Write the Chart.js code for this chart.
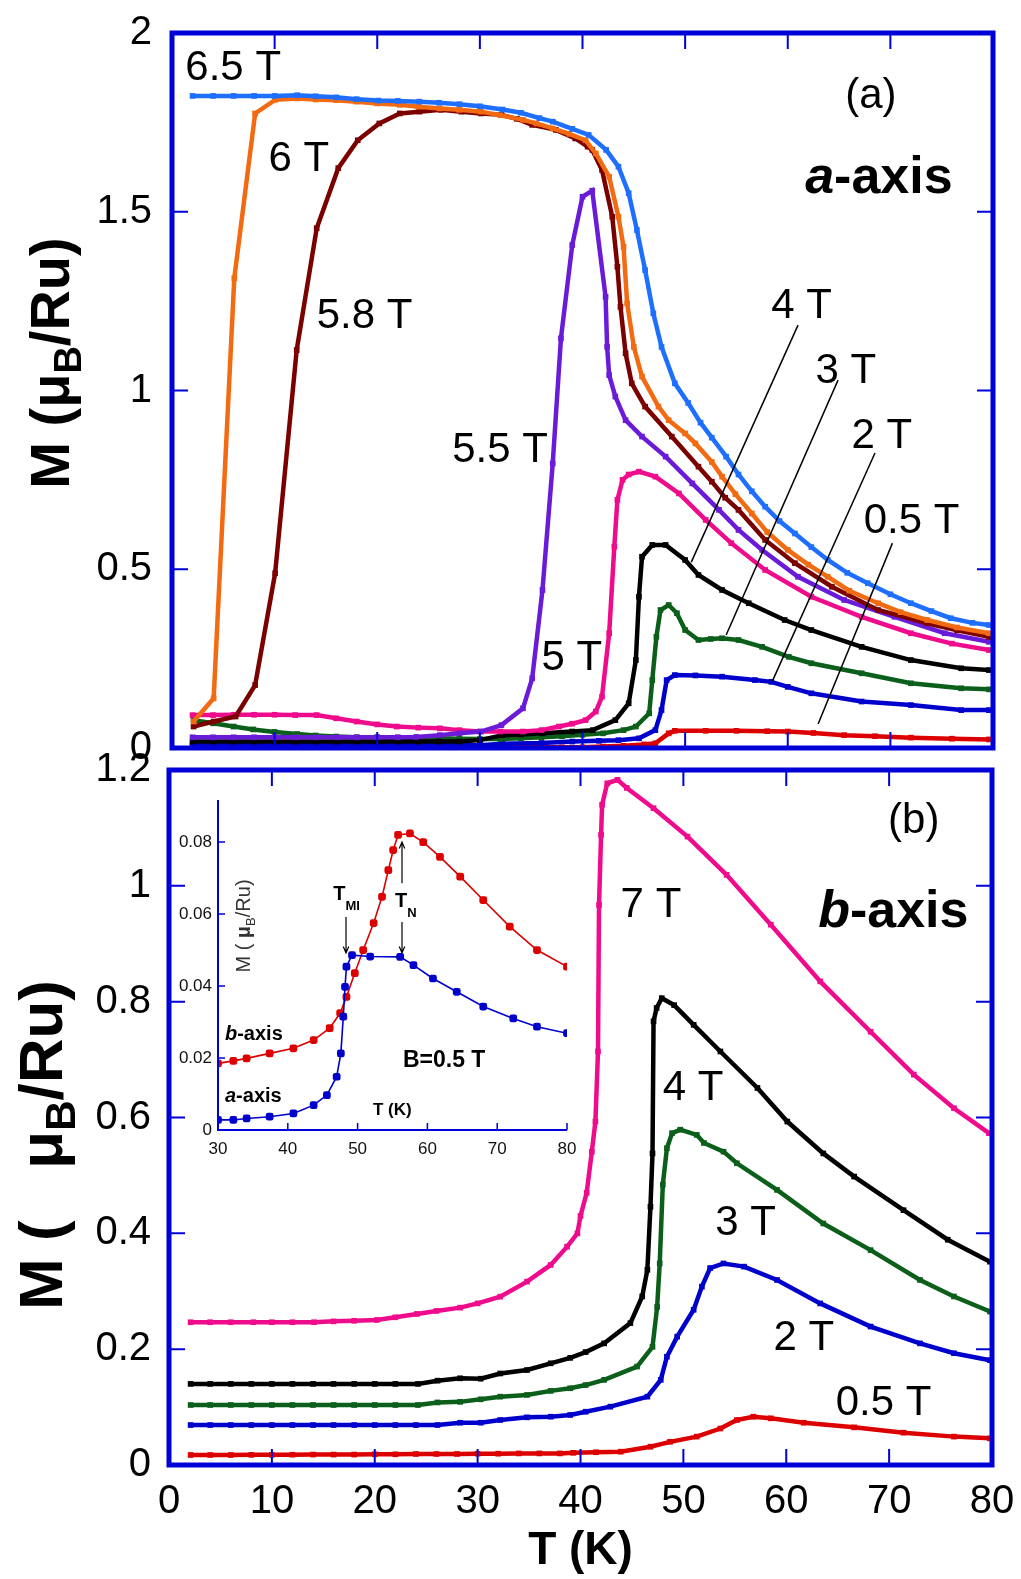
<!DOCTYPE html>
<html>
<head>
<meta charset="utf-8">
<title>M vs T</title>
<script src="https://cdn.jsdelivr.net/npm/chart.js@4.4.1/dist/chart.umd.min.js"></script>
<style>
  html, body { margin: 0; padding: 0; background: #fff; }
  #wrap { position: relative; width: 1021px; height: 1579px; overflow: hidden; }
  canvas { position: absolute; }
  #chart-a { left: 0; top: 0; }
  #chart-b { left: 0; top: 730px; }
  #chart-inset { left: 170px; top: 780px; }
</style>
</head>
<body>
<div id="wrap">
  <canvas id="chart-a" width="1021" height="760"></canvas>
  <canvas id="chart-b" width="1021" height="849"></canvas>
  <canvas id="chart-inset" width="420" height="390"></canvas>
</div>
<script>
'use strict';

// ***** TICKS *****

let tempTicks = [0, 10, 20, 30, 40, 50, 60, 70, 80];
let magTicksA = [0, 0.5, 1, 1.5, 2];
let magTicksB = [0, 0.2, 0.4, 0.6, 0.8, 1, 1.2];
let insetTempTicks = [30, 40, 50, 60, 70, 80];
let insetMagTicks = [0, 0.02, 0.04, 0.06, 0.08];

// ***** DATA: PANEL (a), a-axis *****

let tempA65 = [2, 4, 6, 8, 10, 12.2, 14, 16, 18, 20.1, 22, 24.1, 26, 28, 30, 32.2, 34, 35.8, 37.1, 39, 40.6, 42.3, 43.5, 44.5, 45.3, 46.1, 46.9, 47.7, 49, 50.3, 51.5, 52.6, 54, 55.2, 56.5, 57.8, 59.2, 60.7, 62.3, 63.9, 65.8, 67.8, 70, 72, 74, 75.9, 78, 79.6];
let magA65 = [1.824, 1.824, 1.824, 1.824, 1.824, 1.826, 1.823, 1.82, 1.815, 1.811, 1.81, 1.808, 1.805, 1.801, 1.795, 1.786, 1.777, 1.762, 1.752, 1.732, 1.715, 1.673, 1.626, 1.552, 1.449, 1.337, 1.216, 1.122, 1.02, 0.965, 0.91, 0.868, 0.815, 0.765, 0.718, 0.675, 0.635, 0.6, 0.562, 0.526, 0.49, 0.461, 0.43, 0.405, 0.383, 0.363, 0.35, 0.344];

let tempA6 = [2.1, 4.06, 6.07, 8.1, 10.05, 12.2, 14, 16, 18, 20, 22.2, 24, 26.1, 28, 30.1, 32, 34.2, 35.5, 37.1, 38.7, 40.3, 41.3, 42.6, 43.5, 44, 44.35, 45, 45.8, 47.4, 48.4, 50, 51, 52.6, 53.6, 54.9, 56.5, 58, 60, 62, 63.9, 66, 68.8, 71, 73.6, 76.5, 79.6];
let magA6 = [0.074, 0.139, 1.314, 1.775, 1.813, 1.817, 1.814, 1.812, 1.808, 1.803, 1.799, 1.794, 1.789, 1.785, 1.78, 1.77, 1.757, 1.747, 1.733, 1.718, 1.7, 1.663, 1.598, 1.486, 1.402, 1.244, 1.122, 1.039, 0.955, 0.917, 0.88, 0.852, 0.8, 0.759, 0.71, 0.656, 0.604, 0.554, 0.513, 0.479, 0.44, 0.405, 0.38, 0.358, 0.337, 0.321];

let tempA58 = [2.1, 4.06, 6.2, 8.1, 10.05, 12.15, 14.1, 16.2, 18.1, 20.2, 22.2, 24.1, 26.2, 28.2, 30.1, 32.1, 33.6, 35.1, 37.4, 39.3, 40.5, 40.95, 41.9, 42.9, 43.4, 43.7, 44.2, 44.8, 46.1, 48.7, 51.3, 52.6, 53.9, 55.2, 57.8, 60.7, 64.3, 68.8, 73.6, 76.5, 79.6];
let magA58 = [0.06, 0.074, 0.088, 0.176, 0.489, 1.113, 1.454, 1.622, 1.7, 1.747, 1.775, 1.78, 1.785, 1.78, 1.775, 1.771, 1.76, 1.743, 1.729, 1.705, 1.682, 1.673, 1.617, 1.486, 1.346, 1.234, 1.104, 1.02, 0.955, 0.871, 0.787, 0.745, 0.7, 0.666, 0.582, 0.517, 0.451, 0.386, 0.349, 0.329, 0.311];

let tempA55 = [2, 4, 6, 8, 10, 12, 14, 16, 18, 20, 22, 23.8, 26.1, 28, 30.1, 32.1, 34.2, 35.1, 36.1, 37.1, 37.9, 39, 40, 40.95, 42.25, 42.4, 42.6, 43.2, 44.2, 45.8, 48.1, 50.7, 53.3, 55.2, 57.5, 61, 65.5, 70.4, 75.3, 79.6];
let magA55 = [0.03, 0.03, 0.03, 0.03, 0.03, 0.03, 0.03, 0.03, 0.03, 0.03, 0.03, 0.031, 0.036, 0.041, 0.046, 0.064, 0.111, 0.195, 0.442, 0.796, 1.146, 1.407, 1.542, 1.559, 1.262, 1.122, 1.043, 0.983, 0.917, 0.871, 0.815, 0.74, 0.666, 0.61, 0.554, 0.479, 0.414, 0.367, 0.321, 0.297];

let tempA5 = [2, 4, 6, 8, 10, 12, 14.1, 16, 18, 20, 21.9, 24, 26.1, 28, 30, 32, 34.2, 36, 37.7, 39, 40.3, 41.3, 41.9, 42.6, 43.1, 43.4, 43.9, 44.5, 45.5, 47.1, 49.4, 52, 54.5, 57.8, 62.3, 67.2, 72, 76, 79.6];
let magA5 = [0.092, 0.092, 0.093, 0.093, 0.093, 0.092, 0.092, 0.083, 0.074, 0.066, 0.06, 0.057, 0.055, 0.05, 0.046, 0.046, 0.046, 0.05, 0.06, 0.068, 0.078, 0.102, 0.1435, 0.321, 0.563, 0.694, 0.75, 0.765, 0.773, 0.759, 0.712, 0.638, 0.573, 0.498, 0.423, 0.367, 0.321, 0.292, 0.274];

let tempA4 = [2, 4, 6, 8, 10, 12, 14, 16, 18, 20, 22, 24, 26, 28, 30, 32.2, 34, 36.1, 39, 41, 43.2, 44.5, 45.2, 45.5, 45.8, 46.8, 48.1, 50, 51.3, 53.6, 56.2, 59.7, 62.3, 67.2, 72, 76.9, 79.6];
let magA4 = [0.018, 0.018, 0.018, 0.018, 0.018, 0.018, 0.018, 0.018, 0.018, 0.018, 0.018, 0.018, 0.018, 0.018, 0.022, 0.036, 0.038, 0.041, 0.046, 0.05, 0.078, 0.125, 0.246, 0.423, 0.535, 0.568, 0.568, 0.526, 0.484, 0.442, 0.405, 0.358, 0.33, 0.283, 0.246, 0.223, 0.218];

let tempA3 = [2.1, 4, 6, 7.9, 10, 12.2, 14, 16, 18, 20, 22, 24, 26, 28, 30, 32, 34, 36, 38, 40, 42, 44, 45.2, 46.5, 46.8, 47.2, 47.6, 48.4, 49.2, 50, 51.3, 52.5, 53.6, 55.2, 57.5, 60.1, 62.3, 67.2, 72, 76.9, 79.6];
let magA3 = [0.078, 0.069, 0.06, 0.052, 0.045, 0.039, 0.035, 0.032, 0.03, 0.03, 0.029, 0.028, 0.027, 0.026, 0.025, 0.025, 0.027, 0.03, 0.033, 0.037, 0.041, 0.05, 0.06, 0.097, 0.19, 0.311, 0.386, 0.4, 0.377, 0.33, 0.302, 0.305, 0.307, 0.302, 0.283, 0.255, 0.237, 0.209, 0.181, 0.167, 0.164];

let tempA2 = [2, 4, 6, 8, 10, 12, 14, 16, 18, 20, 22, 24, 26, 28, 30, 32.2, 36, 39, 41.6, 43.5, 45.5, 47.1, 47.7, 48.2, 49, 51, 53.6, 56.8, 58.4, 60, 62.3, 67.2, 72, 76.9, 79.6];
let magA2 = [0.008, 0.008, 0.008, 0.008, 0.008, 0.008, 0.008, 0.008, 0.008, 0.008, 0.008, 0.008, 0.008, 0.008, 0.008, 0.012, 0.014, 0.018, 0.02, 0.022, 0.027, 0.05, 0.106, 0.19, 0.204, 0.203, 0.1995, 0.19, 0.185, 0.171, 0.153, 0.13, 0.12, 0.106, 0.106];

let tempA05 = [2, 4, 6, 8, 10, 12, 14, 16, 18, 20, 22, 24, 26, 28, 30, 32, 34, 36, 38, 40, 42, 44, 46, 47.1, 48.4, 49, 52, 55, 58, 60, 62.5, 65.5, 68.5, 72, 76, 79.6];
let magA05 = [0.002, 0.002, 0.002, 0.002, 0.002, 0.002, 0.002, 0.002, 0.002, 0.002, 0.002, 0.002, 0.002, 0.002, 0.002, 0.002, 0.002, 0.002, 0.002, 0.002, 0.004, 0.006, 0.01, 0.013, 0.041, 0.048, 0.048, 0.048, 0.047, 0.046, 0.042, 0.036, 0.033, 0.029, 0.026, 0.024];

// ***** DATA: PANEL (b), b-axis *****

let tempB7 = [2.1, 4, 6, 8.2, 10, 12, 14.1, 16, 18, 20.2, 22, 24.1, 26, 28.3, 30, 32.2, 34.8, 37.1, 38.7, 39.7, 40, 40.6, 41.1, 41.45, 41.7, 41.8, 42, 42.1, 42.6, 43.6, 44.5, 47.1, 50.4, 54.2, 58.5, 63.3, 68.2, 72.4, 76.3, 79.7];
let magB7 = [0.2465, 0.2465, 0.2465, 0.2465, 0.2465, 0.2465, 0.2465, 0.248, 0.249, 0.2504, 0.255, 0.2608, 0.266, 0.2717, 0.279, 0.2907, 0.3166, 0.3454, 0.377, 0.4, 0.43, 0.47, 0.541, 0.593, 0.714, 0.967, 1.088, 1.14, 1.177, 1.183, 1.169, 1.134, 1.085, 1.019, 0.933, 0.835, 0.748, 0.674, 0.616, 0.573];

let tempB4 = [2.1, 4, 6, 8, 10, 12, 14, 16, 18, 20, 22, 24.2, 26.1, 28.3, 30.3, 32.2, 34.8, 37.1, 39, 40.5, 42.3, 44.85, 46, 46.5, 46.8, 47, 47.1, 47.4, 47.9, 49.1, 51, 53.6, 57.2, 60.1, 63.6, 66.6, 71.4, 75.7, 79.8];
let magB4 = [0.14, 0.14, 0.14, 0.14, 0.14, 0.14, 0.14, 0.14, 0.14, 0.14, 0.14, 0.14, 0.1456, 0.1497, 0.149, 0.158, 0.164, 0.1756, 0.185, 0.195, 0.21, 0.245, 0.291, 0.337, 0.446, 0.538, 0.766, 0.789, 0.806, 0.794, 0.76, 0.714, 0.651, 0.593, 0.538, 0.498, 0.44, 0.389, 0.351];

let tempB3 = [2.1, 4, 6, 8, 10, 12, 14, 16, 18, 20, 22, 24.2, 26.1, 28.3, 30.3, 32.2, 34.8, 37.1, 39, 40.5, 42.3, 45.5, 47, 47.45, 47.7, 48, 48.4, 48.9, 49.7, 51.3, 52, 53.9, 55.2, 59.1, 63.6, 68.2, 73, 76.3, 79.8];
let magB3 = [0.1036, 0.1036, 0.1036, 0.1036, 0.1036, 0.1036, 0.1036, 0.1036, 0.1036, 0.1036, 0.1036, 0.1036, 0.108, 0.109, 0.1134, 0.118, 0.121, 0.128, 0.1325, 0.138, 0.147, 0.17, 0.204, 0.273, 0.348, 0.484, 0.547, 0.573, 0.579, 0.57, 0.556, 0.541, 0.521, 0.475, 0.417, 0.371, 0.3195, 0.291, 0.265];

let tempB2 = [2.1, 4, 6, 8, 10, 12, 14, 16, 18, 20, 22, 24, 26.1, 28.3, 30.3, 32.2, 34.8, 37.1, 39, 40.5, 42.9, 46.5, 47.8, 48.4, 49.4, 51, 51.8, 52.6, 53.9, 55.9, 59.1, 63.3, 68.2, 73, 76.3, 79.8];
let magB2 = [0.069, 0.069, 0.069, 0.069, 0.069, 0.069, 0.069, 0.069, 0.069, 0.069, 0.069, 0.069, 0.069, 0.073, 0.073, 0.0777, 0.0823, 0.0834, 0.0864, 0.092, 0.1007, 0.118, 0.147, 0.187, 0.2216, 0.268, 0.308, 0.34, 0.348, 0.3425, 0.3195, 0.279, 0.239, 0.21, 0.193, 0.181];

let tempB05 = [2.1, 4, 6, 8, 10, 12, 14, 16, 18, 20, 22, 24, 26, 28, 30, 32, 34, 36, 38, 39.3, 41.5, 43.9, 46.8, 48.7, 51.3, 53.6, 55.2, 56.8, 58.5, 61.7, 66.6, 71.4, 76.3, 79.8];
let magB05 = [0.0173, 0.0173, 0.0173, 0.0175, 0.0175, 0.0178, 0.018, 0.018, 0.018, 0.0185, 0.0185, 0.019, 0.019, 0.019, 0.0195, 0.0195, 0.02, 0.02, 0.02, 0.021, 0.022, 0.023, 0.0316, 0.04, 0.049, 0.063, 0.0777, 0.0834, 0.0806, 0.073, 0.065, 0.0558, 0.049, 0.046];

// ***** DATA: INSET, B = 0.5 T *****

let tempInB = [30, 32.2, 34.1, 37.4, 40.8, 43.7, 46, 47.5, 48.4, 49.6, 50.8, 52.3, 53.5, 54.4, 55.1, 55.8, 57.5, 59.4, 61.8, 64.7, 68, 71.8, 75.7, 80];
let magInB = [0.0185, 0.0192, 0.0199, 0.0213, 0.0227, 0.025, 0.0283, 0.0325, 0.037, 0.0436, 0.05, 0.0575, 0.0648, 0.0722, 0.0778, 0.082, 0.0824, 0.08, 0.0759, 0.0704, 0.0639, 0.0565, 0.05, 0.0454];

let tempInA = [30, 32.2, 34.1, 37.4, 40.8, 43.7, 45.6, 47, 47.6, 47.95, 48.2, 48.4, 49.2, 51.8, 56.1, 58, 60.8, 64.2, 68, 72.3, 75.7, 80];
let magInA = [0.0028, 0.0028, 0.0032, 0.0037, 0.0046, 0.0069, 0.0097, 0.0148, 0.0213, 0.0315, 0.0398, 0.0454, 0.0486, 0.0482, 0.0481, 0.0458, 0.0421, 0.0384, 0.0343, 0.031, 0.0287, 0.0269];

// ***** STYLE *****

const FONT = "'Liberation Sans', Arial, Helvetica, sans-serif";
const FRAME_BLUE = '#0000d8';

Chart.defaults.font.family = FONT;
Chart.defaults.color = '#000';

function fnt(size, weight, style) {
  return (style || '') + ' ' + (weight || '') + ' ' + size + 'px ' + FONT;
}

function run(t, font, dy) {
  return {t: t, font: font, dy: dy || 0};
}

// ***** HELPER FUNCTIONS *****

function toPoints(temps, mags) {
  let pts = [];
  for (let i = 0; i < temps.length; i++) {
    pts.push({x: temps[i], y: mags[i]});
  }
  return pts;
}

function curve(temps, mags, color) {
  return {
    data: toPoints(temps, mags),
    borderColor: color,
    backgroundColor: color,
    borderWidth: 4.5,
    pointStyle: 'rect',
    pointRadius: 4,
    pointBorderWidth: 0,
    showLine: true,
    tension: 0
  };
}

function insetCurve(temps, mags, color) {
  return {
    data: toPoints(temps, mags),
    borderColor: color,
    backgroundColor: color,
    borderWidth: 1.6,
    pointStyle: 'rectRounded',
    pointRadius: 4.5,
    pointBorderWidth: 0,
    showLine: true,
    tension: 0
  };
}

function useTicks(list) {
  return function(scale) {
    scale.ticks = list.map(v => ({value: v}));
  };
}

// fixed axis box size, and no extra room asked for the end labels
function fixBox(dim, size) {
  return function(scale) {
    scale[dim] = size;
    scale.paddingTop = 0;
    scale.paddingBottom = 0;
    scale.paddingLeft = 0;
    scale.paddingRight = 0;
  };
}

// ***** PLUGINS *****

// blue frame + inward tick marks
let panelFrame = {
  id: 'panelFrame',
  afterDatasetsDraw(chart, args, opts) {
    let ctx = chart.ctx;
    let a = chart.chartArea;
    let xs = chart.scales.x;
    let ys = chart.scales.y;
    let len = opts.tickLen;
    ctx.save();
    ctx.strokeStyle = opts.color;
    ctx.lineWidth = opts.tickWidth;
    ctx.beginPath();
    xs.ticks.forEach(t => {
      let px = xs.getPixelForValue(t.value);
      ctx.moveTo(px, a.bottom);
      ctx.lineTo(px, a.bottom - len);
      if (opts.full) {
        ctx.moveTo(px, a.top);
        ctx.lineTo(px, a.top + len);
      }
    });
    ys.ticks.forEach(t => {
      let py = ys.getPixelForValue(t.value);
      ctx.moveTo(a.left, py);
      ctx.lineTo(a.left + len, py);
      if (opts.full) {
        ctx.moveTo(a.right, py);
        ctx.lineTo(a.right - len, py);
      }
    });
    ctx.stroke();
    ctx.lineWidth = opts.lineWidth;
    if (opts.full) {
      ctx.strokeRect(a.left, a.top, a.right - a.left, a.bottom - a.top);
    } else {
      ctx.beginPath();
      ctx.moveTo(a.left, a.top);
      ctx.lineTo(a.left, a.bottom);
      ctx.lineTo(a.right, a.bottom);
      ctx.stroke();
    }
    ctx.restore();
  }
};

function drawRuns(ctx, runs, x, y) {
  let px = x;
  runs.forEach(r => {
    ctx.font = r.font;
    ctx.fillText(r.t, px, y + r.dy);
    px += ctx.measureText(r.t).width;
  });
}

function runsWidth(ctx, runs) {
  let w = 0;
  runs.forEach(r => {
    ctx.font = r.font;
    w += ctx.measureText(r.t).width;
  });
  return w;
}

// labels, leader lines and arrows placed in data coordinates
let panelNotes = {
  id: 'panelNotes',
  afterDraw(chart, args, opts) {
    let ctx = chart.ctx;
    let xs = chart.scales.x;
    let ys = chart.scales.y;
    ctx.save();
    ctx.strokeStyle = '#000';
    ctx.fillStyle = '#000';
    (opts.lines || []).forEach(l => {
      let x1 = xs.getPixelForValue(l[0]);
      let y1 = ys.getPixelForValue(l[1]);
      let x2 = xs.getPixelForValue(l[2]);
      let y2 = ys.getPixelForValue(l[3]);
      ctx.lineWidth = opts.lineWidth || 1.5;
      ctx.beginPath();
      ctx.moveTo(x1, y1);
      ctx.lineTo(x2, y2);
      if (l[4]) {
        let ang = Math.atan2(y2 - y1, x2 - x1);
        let h = 7;
        ctx.moveTo(x2 - h * Math.cos(ang - 0.4), y2 - h * Math.sin(ang - 0.4));
        ctx.lineTo(x2, y2);
        ctx.lineTo(x2 - h * Math.cos(ang + 0.4), y2 - h * Math.sin(ang + 0.4));
      }
      ctx.stroke();
    });
    ctx.textBaseline = 'alphabetic';
    ctx.textAlign = 'left';
    (opts.texts || []).forEach(tx => {
      drawRuns(ctx, tx.runs, xs.getPixelForValue(tx.x), ys.getPixelForValue(tx.y));
    });
    ctx.restore();
  }
};

// rotated y title with a subscript
let yTitle = {
  id: 'yTitle',
  afterDraw(chart, args, opts) {
    let ctx = chart.ctx;
    ctx.save();
    ctx.fillStyle = opts.color || '#000';
    ctx.textBaseline = 'alphabetic';
    ctx.textAlign = 'left';
    ctx.translate(opts.x, opts.y);
    ctx.rotate(-Math.PI / 2);
    let w = runsWidth(ctx, opts.runs);
    drawRuns(ctx, opts.runs, -w / 2, 0);
    ctx.restore();
  }
};

// ***** ANNOTATIONS *****

let fLabel = fnt(42);
let fAxisName = fnt(52, 'bold');
let fAxisNameIt = fnt(52, 'bold', 'italic');

let notesA = {
  lines: [
    [61.0, 1.183, 50.6, 0.52],
    [64.9, 1.029, 54.0, 0.316],
    [68.5, 0.825, 58.5, 0.187],
    [70.2, 0.573, 62.96, 0.067]
  ],
  texts: [
    {x: 1.3, y: 1.869, runs: [run('6.5 T', fLabel)]},
    {x: 9.4, y: 1.614, runs: [run('6 T', fLabel)]},
    {x: 14.1, y: 1.175, runs: [run('5.8 T', fLabel)]},
    {x: 27.3, y: 0.8, runs: [run('5.5 T', fLabel)]},
    {x: 36.0, y: 0.218, runs: [run('5 T', fLabel)]},
    {x: 58.4, y: 1.203, runs: [run('4 T', fLabel)]},
    {x: 62.7, y: 1.021, runs: [run('3 T', fLabel)]},
    {x: 66.2, y: 0.839, runs: [run('2 T', fLabel)]},
    {x: 67.4, y: 0.601, runs: [run('0.5 T', fLabel)]},
    {x: 65.6, y: 1.79, runs: [run('(a)', fLabel)]},
    {x: 61.7, y: 1.552, runs: [run('a', fAxisNameIt), run('-axis', fAxisName)]}
  ]
};

let notesB = {
  lines: [],
  texts: [
    {x: 69.9, y: 1.092, runs: [run('(b)', fLabel)]},
    {x: 63.1, y: 0.929, runs: [run('b', fAxisNameIt), run('-axis', fAxisName)]},
    {x: 43.9, y: 0.946, runs: [run('7 T', fLabel)]},
    {x: 48.0, y: 0.63, runs: [run('4 T', fLabel)]},
    {x: 53.1, y: 0.397, runs: [run('3 T', fLabel)]},
    {x: 58.75, y: 0.1986, runs: [run('2 T', fLabel)]},
    {x: 64.8, y: 0.0864, runs: [run('0.5 T', fLabel)]}
  ]
};

let fInsetBold = fnt(20, 'bold');
let fInsetBoldIt = fnt(20, 'bold', 'italic');
let fInsetSub = fnt(13, 'bold');

let notesInset = {
  lineWidth: 1.2,
  lines: [
    [48.34, 0.0592, 48.34, 0.0492, true],
    [56.36, 0.0686, 56.36, 0.0800, true],
    [56.36, 0.0578, 56.36, 0.0492, true]
  ],
  texts: [
    {x: 31.0, y: 0.025, runs: [run('b', fInsetBoldIt), run('-axis', fInsetBold)]},
    {x: 31.0, y: 0.0079, runs: [run('a', fInsetBoldIt), run('-axis', fInsetBold)]},
    {x: 56.5, y: 0.0174, runs: [run('B=0.5 T', fnt(23, 'bold'))]},
    {x: 52.2, y: 0.0042, runs: [run('T (K)', fnt(17, 'bold'))]},
    {x: 46.5, y: 0.0639, runs: [run('T', fInsetBold), run('MI', fInsetSub, 10)]},
    {x: 55.36, y: 0.062, runs: [run('T', fInsetBold), run('N', fInsetSub, 10)]}
  ]
};

// ***** SHARED OPTIONS *****

function frameOpts() {
  return {color: FRAME_BLUE, lineWidth: 5, tickWidth: 2, tickLen: 16, full: true};
}

// ***** CHART (a) *****

new Chart(document.getElementById('chart-a'), {
  type: 'scatter',
  data: {
    datasets: [
      curve(tempA65, magA65, '#1f6fff'),
      curve(tempA6, magA6, '#f26b12'),
      curve(tempA58, magA58, '#7b0000'),
      curve(tempA55, magA55, '#6a1bd8'),
      curve(tempA5, magA5, '#ee0c8c'),
      curve(tempA4, magA4, '#000000'),
      curve(tempA3, magA3, '#0b5f1b'),
      curve(tempA2, magA2, '#0000cc'),
      curve(tempA05, magA05, '#dd0000')
    ]
  },
  options: {
    responsive: false,
    animation: false,
    events: [],
    layout: {padding: {top: 33, right: 28, bottom: 12, left: 0}},
    plugins: {
      legend: {display: false},
      tooltip: {enabled: false},
      panelFrame: frameOpts(),
      panelNotes: notesA,
      yTitle: {x: 69, y: 363, runs: [run('M (', fnt(56, 'bold')), run('\u03bc', fnt(56, 'bold')), run('B', fnt(38, 'bold'), 12), run('/Ru)', fnt(56, 'bold'))]}
    },
    scales: {
      x: {
        type: 'linear', min: 0, max: 80,
        afterBuildTicks: useTicks(tempTicks),
        ticks: {display: false},
        grid: {display: false, drawTicks: false},
        border: {display: false},
        afterFit: fixBox('height', 0)
      },
      y: {
        type: 'linear', min: 0, max: 2,
        afterBuildTicks: useTicks(magTicksA),
        ticks: {font: {size: 40}, color: '#000', padding: 20, callback: v => String(v)},
        grid: {display: false, drawTicks: false},
        border: {display: false},
        afterFit: fixBox('width', 172)
      }
    }
  },
  plugins: [panelFrame, panelNotes, yTitle]
});

// ***** CHART (b) *****

new Chart(document.getElementById('chart-b'), {
  type: 'scatter',
  data: {
    datasets: [
      curve(tempB7, magB7, '#ee0c8c'),
      curve(tempB4, magB4, '#000000'),
      curve(tempB3, magB3, '#0b5f1b'),
      curve(tempB2, magB2, '#0000cc'),
      curve(tempB05, magB05, '#dd0000')
    ]
  },
  options: {
    responsive: false,
    animation: false,
    events: [],
    layout: {padding: {top: 40, right: 29, bottom: 0, left: 0}},
    plugins: {
      legend: {display: false},
      tooltip: {enabled: false},
      panelFrame: frameOpts(),
      panelNotes: notesB,
      yTitle: {x: 62, y: 415, runs: [run('M (   ', fnt(62, 'bold')), run('\u03bc', fnt(62, 'bold')), run('B', fnt(42, 'bold'), 13), run('/Ru)', fnt(62, 'bold'))]}
    },
    scales: {
      x: {
        type: 'linear', min: 0, max: 80,
        afterBuildTicks: useTicks(tempTicks),
        ticks: {font: {size: 40}, color: '#000', padding: 13, maxRotation: 0, callback: v => String(v)},
        grid: {display: false, drawTicks: false},
        border: {display: false},
        title: {display: true, text: 'T (K)', font: {size: 46, weight: 'bold'}, color: '#000', padding: {top: 0, bottom: 0}},
        afterFit: fixBox('height', 114)
      },
      y: {
        type: 'linear', min: 0, max: 1.2,
        afterBuildTicks: useTicks(magTicksB),
        ticks: {font: {size: 40}, color: '#000', padding: 18, callback: v => String(v)},
        grid: {display: false, drawTicks: false},
        border: {display: false},
        afterFit: fixBox('width', 169)
      }
    }
  },
  plugins: [panelFrame, panelNotes, yTitle]
});

// ***** INSET *****

new Chart(document.getElementById('chart-inset'), {
  type: 'scatter',
  data: {
    datasets: [
      insetCurve(tempInA, magInA, '#0000cc'),
      insetCurve(tempInB, magInB, '#dd0000')
    ]
  },
  options: {
    responsive: false,
    animation: false,
    events: [],
    layout: {padding: {top: 20, right: 23, bottom: 0, left: 0}},
    plugins: {
      legend: {display: false},
      tooltip: {enabled: false},
      panelFrame: {color: FRAME_BLUE, lineWidth: 2, tickWidth: 1.5, tickLen: 7, full: false},
      panelNotes: notesInset,
      yTitle: {x: 80, y: 146, color: '#333', runs: [run('M ( ', fnt(20)), run('\u03bc', fnt(20, 'bold')), run('B', fnt(13), 5), run('/Ru)', fnt(20))]}
    },
    scales: {
      x: {
        type: 'linear', min: 30, max: 80,
        afterBuildTicks: useTicks(insetTempTicks),
        ticks: {font: {size: 17}, color: '#111', padding: 9, maxRotation: 0, callback: v => String(v)},
        grid: {display: false, drawTicks: false},
        border: {display: false},
        afterFit: fixBox('height', 40)
      },
      y: {
        type: 'linear', min: 0, max: 0.0917,
        afterBuildTicks: useTicks(insetMagTicks),
        ticks: {font: {size: 17}, color: '#111', padding: 6, callback: v => String(v)},
        grid: {display: false, drawTicks: false},
        border: {display: false},
        afterFit: fixBox('width', 48)
      }
    }
  },
  plugins: [panelFrame, panelNotes, yTitle]
});
</script>
</body>
</html>
